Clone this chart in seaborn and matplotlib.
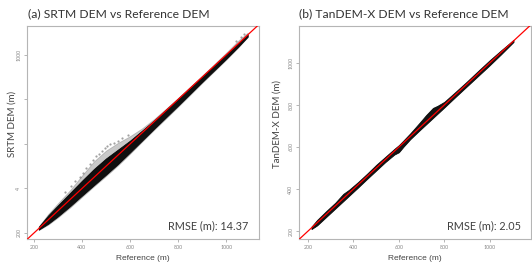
import numpy as np
import pandas as pd
import matplotlib
matplotlib.use("Agg")
import matplotlib.pyplot as plt
import seaborn as sns

# (a) SRTM vs reference: band (offsets from the 1:1 line, m)
ref_a = [220, 260, 300, 350, 400, 450, 500, 550, 600, 650, 700, 750, 800, 850, 900, 950, 1000, 1050, 1090]
core_hi_a = [8, 20, 25, 30, 35, 38, 35, 25, 15, 10, 6, 5, 4, 4, 3, 3, 3, 3, 2]
core_lo_a = [-5, -18, -25, -30, -32, -35, -38, -40, -38, -35, -32, -30, -28, -25, -22, -20, -18, -14, -8]
outer_hi_a = [10, 26, 34, 42, 58, 72, 70, 55, 35, 20, 12, 9, 7, 7, 7, 8, 10, 14, 10]
outer_lo_a = [-7, -22, -30, -36, -38, -40, -44, -46, -44, -40, -37, -35, -33, -30, -26, -24, -22, -17, -10]
speck_x_a = [330, 355, 372, 390, 405, 418, 432, 446, 458, 470, 482, 494, 506, 518, 532, 548, 565, 590, 1040, 1060, 1075]
speck_y_a = [382, 410, 432, 452, 470, 492, 512, 528, 548, 556, 568, 584, 590, 598, 604, 612, 625, 640, 1062, 1082, 1092]

# (b) TanDEM-X vs reference
ref_b = [215, 240, 280, 320, 355, 380, 420, 460, 500, 540, 580, 600, 620, 650, 690, 720, 750, 770, 800, 850, 900, 950, 1000, 1050, 1105]
hi_b = [6, 13, 15, 15, 22, 16, 13, 13, 15, 13, 11, 9, 11, 15, 24, 32, 36, 26, 15, 13, 12, 13, 13, 10, 5]
lo_b = [-6, -13, -13, -13, -13, -13, -13, -12, -12, -12, -16, -25, -19, -13, -12, -12, -12, -12, -12, -11, -11, -11, -11, -9, -5]

ticks = [200, 400, 600, 800, 1000]
ytick_labels_a = ["200", "4", "", "", "1000"]
tick_labels = ["200", "400", "600", "800", "1000"]

sns.set_theme(style="white")
plt.rcParams["font.family"] = ["Lato", "DejaVu Sans"]

fig = plt.figure(figsize=(5.32, 2.68), dpi=100)
ax_a = fig.add_axes([27 / 532, 1 - 239 / 268, 232 / 532, 213 / 268])
ax_b = fig.add_axes([299 / 532, 1 - 239 / 268, 232 / 532, 213 / 268])


def draw_band(ax, ref, lo, hi, color, alpha):
    ref = np.asarray(ref, float)
    ax.fill_between(ref, ref + np.asarray(lo), ref + np.asarray(hi),
                    color=color, alpha=alpha, lw=0.6, edgecolor=color)


def style_axes(ax, xlim, ylim, ylabels, ylabel, rmse, ylab_x):
    ax.set_xlim(*xlim)
    ax.set_ylim(*ylim)
    ax.axline((0, 0), slope=1, color="red", lw=0.9, zorder=5)
    ax.set_xticks(ticks)
    ax.set_xticklabels(tick_labels)
    ax.set_yticks(ticks)
    ax.set_yticklabels(ylabels, rotation=90, va="center")
    ax.tick_params(axis="both", length=2, width=0.5, color="#999999",
                   labelsize=3.8, labelcolor="#888888", pad=2, direction="out")
    ax.tick_params(bottom=True, left=True)
    for s in ax.spines.values():
        s.set_color("#b5b5b5")
        s.set_linewidth(0.8)
    ax.set_xlabel("Reference (m)", fontsize=6, color="#444444",
                  family=["Liberation Sans", "DejaVu Sans"], labelpad=4)
    ax.set_ylabel(ylabel, fontsize=7, color="#444444")
    ax.yaxis.set_label_coords(ylab_x, 0.54)
    ax.text(0.955, 0.06, rmse, transform=ax.transAxes, ha="right", va="center",
            fontsize=7.8, color="#404040")


# panel (a)
draw_band(ax_a, ref_a, outer_lo_a, outer_hi_a, "#666666", 0.35)
draw_band(ax_a, ref_a, core_lo_a, core_hi_a, "black", 0.92)
df_speck = pd.DataFrame({"ref": speck_x_a, "srtm": speck_y_a})
sns.scatterplot(data=df_speck, x="ref", y="srtm", ax=ax_a, s=2.5, color="#555555",
                alpha=0.55, linewidth=0, legend=False)
style_axes(ax_a, (171, 1137), (173, 1130), ytick_labels_a, "SRTM DEM (m)",
           "RMSE (m): 14.37", -0.045)

# panel (b)
draw_band(ax_b, ref_b, lo_b, hi_b, "black", 0.92)
style_axes(ax_b, (160, 1182), (162, 1176), tick_labels, "TanDEM-X DEM (m)",
           "RMSE (m): 2.05", -0.075)

fig.text(28 / 532, 1 - 14 / 268, "(a) SRTM DEM vs Reference DEM", fontsize=8.7,
         color="#333333", va="center", ha="left")
fig.text(299 / 532, 1 - 14 / 268, "(b) TanDEM-X DEM vs Reference DEM", fontsize=8.7,
         color="#333333", va="center", ha="left")

fig.savefig("out.png", dpi=100)
